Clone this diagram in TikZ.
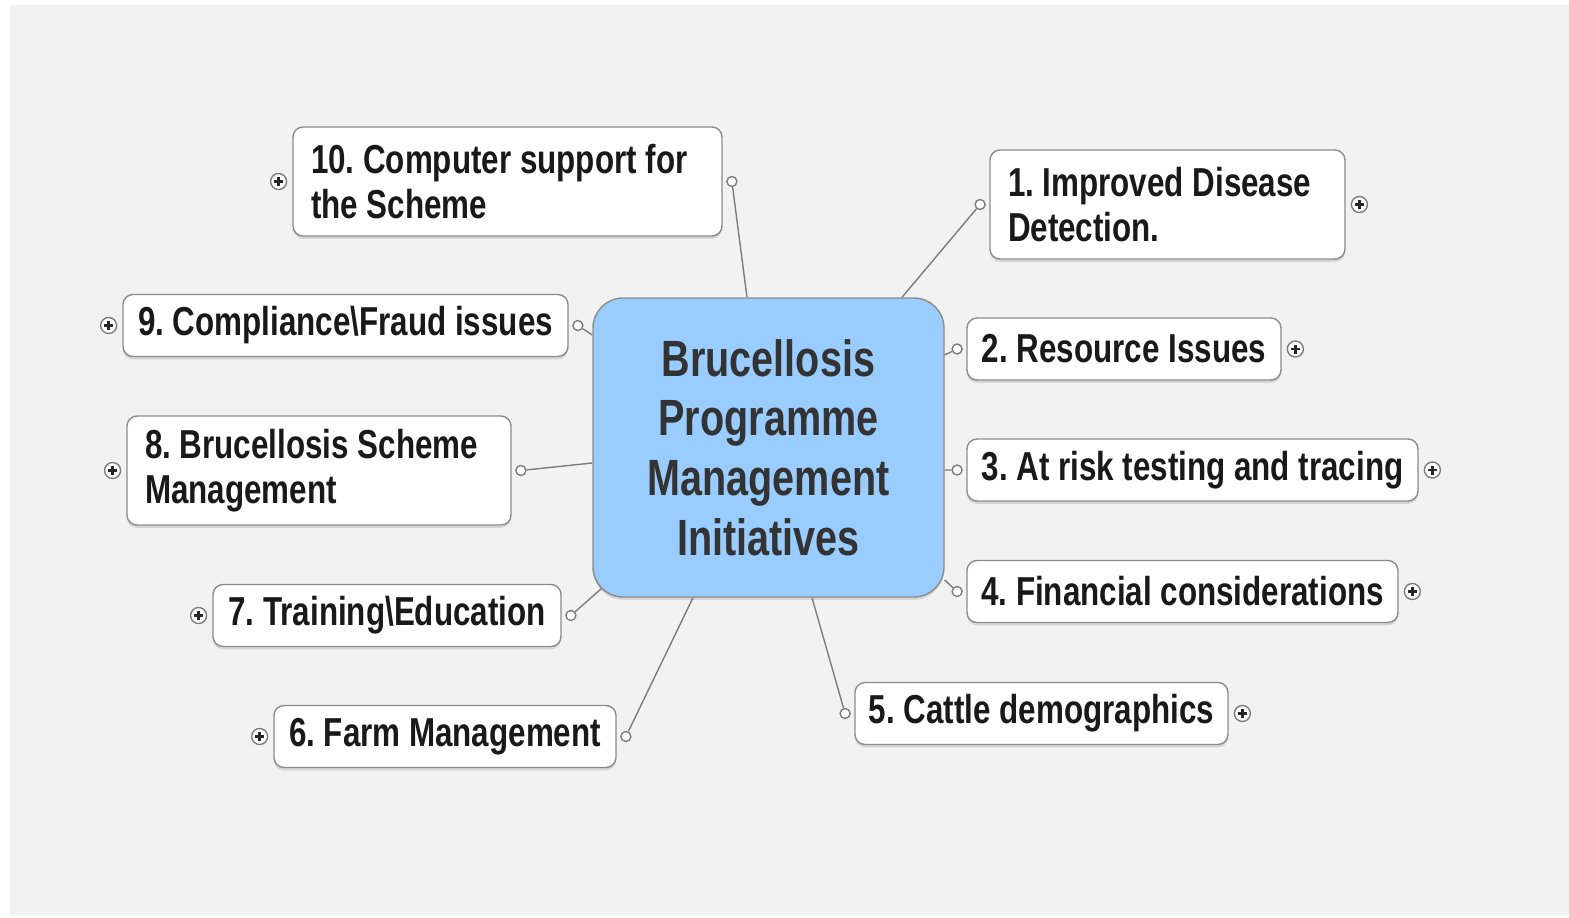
\documentclass[tikz,border=0pt]{standalone}
\usepackage{fontspec}
\setmainfont{Liberation Sans}[FakeStretch=0.776]
\usepackage{xcolor}
\usepackage{tikz}
\definecolor{canvasgray}{RGB}{242, 242, 242}
\definecolor{topicblue}{RGB}{153, 204, 255}
\definecolor{boxgray}{RGB}{140, 140, 140}
\definecolor{linkgray}{RGB}{125, 125, 125}
\definecolor{topictext}{RGB}{51, 51, 51}
\usetikzlibrary{positioning, shadows}

\newcommand{\branchfont}{\fontsize{11.5}{12.8}\selectfont\bfseries\frenchspacing}
\newcommand{\topicfont}{\fontsize{14.5}{17}\selectfont\bfseries}

\begin{document}
\begin{tikzpicture}[
    node distance=0.05cm,
    topic/.style={rectangle, draw=boxgray, fill=topicblue, rounded corners=0.3cm, minimum width=3.51cm, minimum height=2.99cm, align=center, font=\topicfont, text=topictext, drop shadow={shadow xshift=0pt, shadow yshift=-0.8pt, opacity=0.25}},
    branch/.style={rectangle, draw=boxgray, fill=white, rounded corners=0.1cm, minimum height=0.62cm, inner xsep=0.12cm, inner ysep=0.05cm, font=\branchfont, text=black!90, drop shadow={shadow xshift=0pt, shadow yshift=-0.8pt, opacity=0.25}},
    twoline/.style={branch, minimum height=1.09cm, inner xsep=0.18cm, align=flush left},
    link/.style={draw=linkgray, line width=0.4pt},
    dot/.style={circle, draw=linkgray, fill=white, inner sep=0pt, minimum size=0.1cm},
    expander/.style={circle, draw=linkgray, fill=white, inner sep=0pt, minimum size=0.16cm,
        path picture={\draw[black!85, line width=0.7pt]
            ([xshift=-0.045cm]path picture bounding box.center) -- ([xshift=0.045cm]path picture bounding box.center)
            ([yshift=-0.045cm]path picture bounding box.center) -- ([yshift=0.045cm]path picture bounding box.center);}}
]
    \useasboundingbox (0, 0) rectangle (15.69, -9.18);
    \fill[canvasgray] (0.10, -0.05) rectangle (15.69, -9.15);

    \node[topic] (topic) at (7.685, -4.475) {Brucellosis\\Programme\\Management\\Initiatives};

    \node[twoline, text width=3.19cm] (detect) at (11.675, -2.045) {1. Improved Disease\\Detection.};
    \node[branch, minimum width=3.14cm] (resource) at (11.24, -3.49) {2. Resource Issues};
    \node[branch, minimum width=4.51cm] (atrisk) at (11.925, -4.70) {3. At risk testing and tracing};
    \node[branch, minimum width=4.31cm] (finance) at (11.825, -5.915) {4. Financial considerations};
    \node[branch, minimum width=3.73cm] (cattle) at (10.415, -7.135) {5. Cattle demographics};
    \node[branch, minimum width=3.42cm] (farm) at (4.45, -7.365) {6. Farm Management};
    \node[branch, minimum width=3.48cm] (training) at (3.87, -6.155) {7. Training\textbackslash Education};
    \node[twoline, text width=3.48cm] (scheme) at (3.19, -4.705) {8. Brucellosis Scheme\\Management};
    \node[branch, minimum width=4.45cm] (fraud) at (3.455, -3.255) {9. Compliance\textbackslash Fraud issues};
    \node[twoline, text width=3.93cm] (computer) at (5.075, -1.815) {10. Computer support for\\the Scheme};

    % small link ends beside each box
    \node[dot, left=0.035cm of detect] (detect-in) {};
    \node[dot, left=0.035cm of resource] (resource-in) {};
    \node[dot, left=0.035cm of atrisk] (atrisk-in) {};
    \node[dot, left=0.035cm of finance] (finance-in) {};
    \node[dot, left=0.035cm of cattle] (cattle-in) {};
    \node[dot, right=0.035cm of farm] (farm-in) {};
    \node[dot, right=0.035cm of training] (training-in) {};
    \node[dot, right=0.035cm of scheme] (scheme-in) {};
    \node[dot, right=0.035cm of fraud] (fraud-in) {};
    \node[dot, right=0.035cm of computer] (computer-in) {};

    % expand buttons
    \node[expander, right=0.05cm of detect] (detect-x) {};
    \node[expander, right=0.05cm of resource] (resource-x) {};
    \node[expander, right=0.05cm of atrisk] (atrisk-x) {};
    \node[expander, right=0.05cm of finance] (finance-x) {};
    \node[expander, right=0.05cm of cattle] (cattle-x) {};
    \node[expander, left=0.05cm of farm] (farm-x) {};
    \node[expander, left=0.05cm of training] (training-x) {};
    \node[expander, left=0.05cm of scheme] (scheme-x) {};
    \node[expander, left=0.05cm of fraud] (fraud-x) {};
    \node[expander, left=0.05cm of computer] (computer-x) {};

    \draw[link] ([xshift=1.335cm]topic.north) -- (detect-in);
    \draw[link] ([yshift=0.925cm]topic.east) -- (resource-in);
    \draw[link] ([yshift=-0.225cm]topic.east) -- (atrisk-in);
    \draw[link] ([yshift=-1.325cm]topic.east) -- (finance-in);
    \draw[link] ([xshift=0.435cm]topic.south) -- (cattle-in);
    \draw[link] ([xshift=-0.755cm]topic.south) -- (farm-in);
    \draw[link] ([shift={(0.09cm, 0.09cm)}]topic.south west) -- (training-in);
    \draw[link] ([yshift=-0.155cm]topic.west) -- (scheme-in);
    \draw[link] ([yshift=1.125cm]topic.west) -- (fraud-in);
    \draw[link] ([xshift=-0.215cm]topic.north) -- (computer-in);
\end{tikzpicture}
\end{document}
